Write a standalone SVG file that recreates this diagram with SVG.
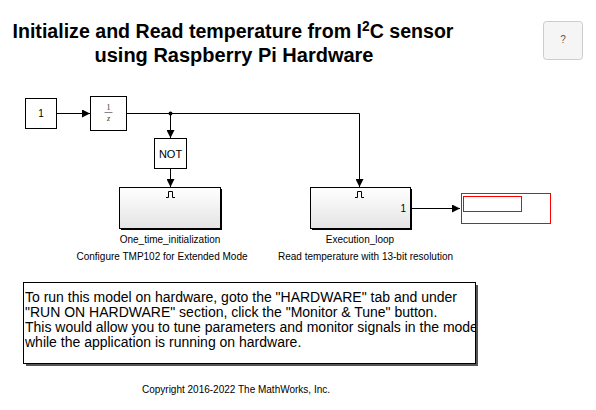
<svg xmlns="http://www.w3.org/2000/svg" width="596" height="410" viewBox="0 0 596 410">
<style>
.blk{fill:#fff;stroke:#000;stroke-width:1}
.lbl{font-family:"Liberation Sans",Arial,sans-serif;font-size:10px;fill:#000}
.wire{fill:none;stroke:#000;stroke-width:1}
.title{font-family:"Liberation Sans",Arial,sans-serif;font-weight:bold;font-size:20px;fill:#000}
.note{font-family:"Liberation Sans",Arial,sans-serif;font-size:14px;fill:#000}
</style>
<defs>
<marker id="arr" viewBox="0 0 10 10" refX="10" refY="5" markerWidth="8" markerHeight="8" markerUnits="userSpaceOnUse" orient="auto">
<path d="M0,0 L10,5 L0,10 z" fill="#000"/>
</marker>
<linearGradient id="sub" x1="0" y1="0" x2="0" y2="1">
<stop offset="0" stop-color="#ffffff"/>
<stop offset="1" stop-color="#e4e4e4"/>
</linearGradient>
<clipPath id="noteclip"><rect x="23" y="282" width="452" height="81"/></clipPath>
</defs>

<g id="title">
<text class="title" x="233" y="38" text-anchor="middle" textLength="441" lengthAdjust="spacingAndGlyphs">Initialize and Read temperature from I<tspan dy="-7" font-size="14">2</tspan><tspan dy="7">C sensor</tspan></text>
<text class="title" x="234" y="62" text-anchor="middle">using Raspberry Pi Hardware</text>
</g>

<g id="help">
<rect x="543.5" y="21.5" width="39" height="38" rx="3" fill="#f5f5f5" stroke="#cccccc"/>
<text x="563" y="43" text-anchor="middle" font-family="Liberation Sans,Arial,sans-serif" font-size="10" fill="#555">?</text>
</g>

<g id="connectors">
<path class="wire" d="M56,113.5 H90" marker-end="url(#arr)"/>
<path class="wire" d="M126,113.5 H359.5 V187" marker-end="url(#arr)"/>
<path class="wire" d="M170.5,113 V138" marker-end="url(#arr)"/>
<path class="wire" d="M170.5,168 V187" marker-end="url(#arr)"/>
<path class="wire" d="M410,208.5 H460" marker-end="url(#arr)"/>
<circle cx="170.5" cy="113.5" r="2" fill="#000"/>
</g>

<g id="constant">
<rect class="blk" x="25.5" y="98.5" width="31" height="30"/>
<text class="lbl" x="41" y="117" text-anchor="middle">1</text>
</g>

<g id="unit_delay">
<rect class="blk" x="90.5" y="96.5" width="36" height="34"/>
<text x="108.5" y="110" text-anchor="middle" font-family="Liberation Serif,serif" font-size="8" fill="#333">1</text>
<line x1="104.5" y1="112.5" x2="112.5" y2="112.5" stroke="#333" stroke-width="0.6"/>
<text x="108.5" y="121" text-anchor="middle" font-family="Liberation Serif,serif" font-style="italic" font-size="8" fill="#333">z</text>
</g>

<g id="not">
<rect class="blk" x="154.5" y="138.5" width="32" height="30"/>
<text x="170.5" y="158" text-anchor="middle" font-family="Liberation Sans,Arial,sans-serif" font-size="11">NOT</text>
</g>

<g id="one_time_initialization">
<rect x="121" y="189" width="101" height="41" fill="#000"/>
<rect x="119.5" y="187.5" width="101" height="41" fill="url(#sub)" stroke="#000"/>
<path d="M166,197.5 H168.5 V191.5 H172.5 V197.5 H175" fill="none" stroke="#000" stroke-width="1"/>
<text class="lbl" x="170" y="243" text-anchor="middle">One_time_initialization</text>
<text class="lbl" x="162" y="260" text-anchor="middle">Configure TMP102 for Extended Mode</text>
</g>

<g id="execution_loop">
<rect x="312" y="189" width="100" height="41" fill="#000"/>
<rect x="310.5" y="187.5" width="100" height="41" fill="url(#sub)" stroke="#000"/>
<path d="M355,197.5 H357.5 V191.5 H361.5 V197.5 H364" fill="none" stroke="#000" stroke-width="1"/>
<text class="lbl" x="406" y="212" text-anchor="end" font-size="9" fill="#333">1</text>
<text class="lbl" x="360" y="243" text-anchor="middle">Execution_loop</text>
<text class="lbl" x="365.5" y="260" text-anchor="middle">Read temperature with 13-bit resolution</text>
</g>

<g id="display">
<rect x="461.5" y="193.5" width="89" height="30" fill="#fff" stroke="#ff0000"/>
<rect x="463.5" y="196.5" width="58" height="15" fill="#fff" stroke="#ff0000"/>
</g>

<g id="annotation">
<rect x="26" y="285" width="452" height="81" fill="#555"/>
<rect x="23.5" y="282.5" width="452" height="81" fill="#fff" stroke="#000"/>
<g clip-path="url(#noteclip)">
<text class="note" x="25" y="302">To run this model on hardware, goto the "HARDWARE" tab and under</text>
<text class="note" x="25" y="317">"RUN ON HARDWARE" section, click the "Monitor &amp; Tune" button.</text>
<text class="note" x="25" y="332">This would allow you to tune parameters and monitor signals in the model</text>
<text class="note" x="25" y="347">while the application is running on hardware.</text>
</g>
</g>

<g id="copyright">
<text x="236" y="393" text-anchor="middle" font-family="Liberation Sans,Arial,sans-serif" font-size="10" fill="#000">Copyright 2016-2022 The MathWorks, Inc.</text>
</g>
</svg>
